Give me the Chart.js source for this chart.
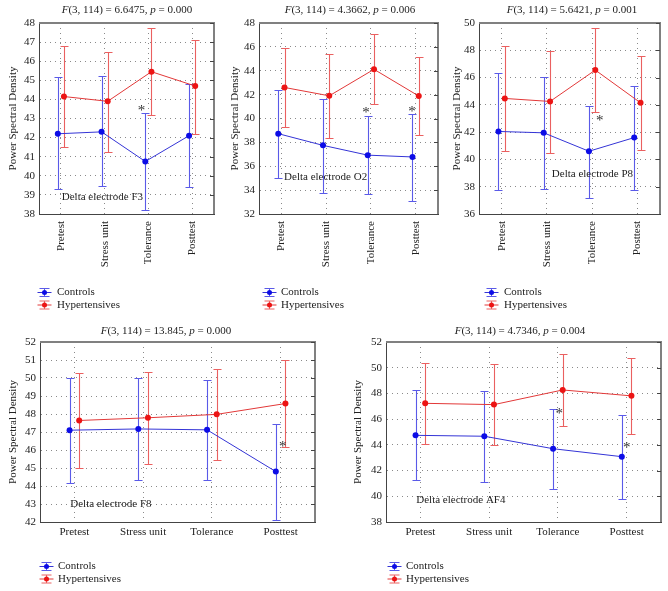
<!DOCTYPE html>
<html>
<head>
<meta charset="utf-8">
<script src="https://cdn.jsdelivr.net/npm/chart.js@4.4.1/dist/chart.umd.min.js"></script>
<style>
  body { margin: 0; background: #fff; }
  #page { position: relative; width: 668px; height: 591px; overflow: hidden; background: #fff; }
  #page canvas { position: absolute; }
</style>
</head>
<body>
<div id="page"></div>
<script>
// ---- data ----
const categories = ['Pretest', 'Stress unit', 'Tolerance', 'Posttest'];
const seriesNames = ['Controls', 'Hypertensives'];
const electrodes = ['Delta electrode F3', 'Delta electrode O2', 'Delta electrode P8', 'Delta electrode F8', 'Delta electrode AF4'];
const fValues = ['6.6475', '4.3662', '5.6421', '13.845', '4.7346'];
const pValues = ['0.000', '0.006', '0.001', '0.000', '0.004'];

// F3
const f3Controls = [42.2, 42.3, 40.75, 42.1];
const f3ControlsLow = [39.3, 39.45, 38.2, 39.4];
const f3ControlsHigh = [45.15, 45.2, 43.3, 44.8];
const f3Hyper = [44.15, 43.9, 45.45, 44.7];
const f3HyperLow = [41.5, 41.25, 43.2, 42.2];
const f3HyperHigh = [46.8, 46.5, 47.75, 47.1];
const f3Stars = [{ at: 2, dx: -0.16, y: 43.6 }];

// O2
const o2Controls = [38.73, 37.75, 36.93, 36.78];
const o2ControlsLow = [35.05, 33.8, 33.7, 33.13];
const o2ControlsHigh = [42.4, 41.66, 40.2, 40.4];
const o2Hyper = [42.6, 41.9, 44.12, 41.88];
const o2HyperLow = [39.32, 38.35, 41.18, 38.62];
const o2HyperHigh = [45.9, 45.4, 47.07, 45.13];
const o2Stars = [{ at: 2, dx: -0.11, y: 40.8 }, { at: 3, dx: -0.08, y: 40.9 }];

// P8
const p8Controls = [42.05, 41.95, 40.6, 41.6];
const p8ControlsLow = [37.75, 37.85, 37.2, 37.75];
const p8ControlsHigh = [46.35, 46.05, 43.95, 45.4];
const p8Hyper = [44.47, 44.25, 46.55, 44.15];
const p8HyperLow = [40.6, 40.5, 43.5, 40.7];
const p8HyperHigh = [48.35, 47.95, 49.6, 47.6];
const p8Stars = [{ at: 2, dx: 0.17, y: 43.1 }];

// F8
const f8Controls = [47.1, 47.17, 47.12, 44.8];
const f8ControlsLow = [44.18, 44.32, 44.32, 42.1];
const f8ControlsHigh = [49.99, 49.99, 49.88, 47.45];
const f8Hyper = [47.64, 47.79, 47.98, 48.58];
const f8HyperLow = [45.0, 45.21, 45.44, 46.17];
const f8HyperHigh = [50.27, 50.33, 50.48, 51.0];
const f8Stars = [{ at: 3, dx: 0.03, y: 46.4 }];

// AF4
const af4Controls = [44.74, 44.67, 43.7, 43.08];
const af4ControlsLow = [41.25, 41.13, 40.55, 39.78];
const af4ControlsHigh = [48.24, 48.17, 46.82, 46.35];
const af4Hyper = [47.23, 47.13, 48.27, 47.81];
const af4HyperLow = [44.05, 43.97, 45.45, 44.83];
const af4HyperHigh = [50.34, 50.32, 51.1, 50.73];
const af4Stars = [{ at: 2, dx: 0.02, y: 46.7 }, { at: 3, dx: 0.0, y: 44.1 }];

// ---- styling ----
const FONT = "'Liberation Serif', 'Times New Roman', serif";
const BLUE = { line: '#3434d6', bar: '#5a5ae8', dot: '#0c0ce6' };
const RED = { line: '#e23838', bar: '#ea6060', dot: '#ec1414' };
const DODGE = 0.07;

const panels = [
  { box: [0, 0, 222, 315], area: [39, 23, 214, 214], yMin: 38, yMax: 48, yStep: 1, rotate: true,
    ctl: [f3Controls, f3ControlsLow, f3ControlsHigh], hyp: [f3Hyper, f3HyperLow, f3HyperHigh], stars: f3Stars,
    yTitleX: 13, titleX: 127, titleY: 10, nameAt: [0.02, 38.9], legend: [38, 57, 292] },
  { box: [222, 0, 222, 315], area: [37, 23, 216, 214], yMin: 32, yMax: 48, yStep: 2, rotate: true,
    ctl: [o2Controls, o2ControlsLow, o2ControlsHigh], hyp: [o2Hyper, o2HyperLow, o2HyperHigh], stars: o2Stars,
    yTitleX: 13, titleX: 128, titleY: 10, nameAt: [0.06, 35.1], legend: [41, 59, 292] },
  { box: [444, 0, 224, 315], area: [35, 23, 216, 214], yMin: 36, yMax: 50, yStep: 2, rotate: true,
    ctl: [p8Controls, p8ControlsLow, p8ControlsHigh], hyp: [p8Hyper, p8HyperLow, p8HyperHigh], stars: p8Stars,
    yTitleX: 13, titleX: 128, titleY: 10, nameAt: [1.11, 38.9], legend: [41, 60, 292] },
  { box: [0, 315, 334, 276], area: [40, 27, 315, 207], yMin: 42, yMax: 52, yStep: 1, rotate: false,
    ctl: [f8Controls, f8ControlsLow, f8ControlsHigh], hyp: [f8Hyper, f8HyperLow, f8HyperHigh], stars: f8Stars,
    yTitleX: 13, titleX: 166, titleY: 16, nameAt: [-0.06, 43.0], legend: [40, 58, 251] },
  { box: [334, 315, 334, 276], area: [52, 27, 327, 207], yMin: 38, yMax: 52, yStep: 2, rotate: false,
    ctl: [af4Controls, af4ControlsLow, af4ControlsHigh], hyp: [af4Hyper, af4HyperLow, af4HyperHigh], stars: af4Stars,
    yTitleX: 24, titleX: 186, titleY: 16, nameAt: [-0.06, 39.7], legend: [54, 72, 251] }
];

function asPoints(series, shift) {
  const [means, low, high] = series;
  return means.map((v, i) => ({ x: i + shift, y: v, lo: low[i], hi: high[i] }));
}

const statExtras = {
  id: 'statExtras',
  beforeDatasetsDraw(chart) {
    const ctx = chart.ctx;
    const ys = chart.scales.y;
    chart.data.datasets.forEach((ds, k) => {
      const meta = chart.getDatasetMeta(k);
      ctx.save();
      ctx.strokeStyle = ds.barColor;
      ctx.lineWidth = 1.1;
      meta.data.forEach((pt, i) => {
        const raw = ds.data[i];
        const x = Math.round(pt.x) + 0.5;
        const top = Math.round(ys.getPixelForValue(raw.hi)) + 0.5;
        const bot = Math.round(ys.getPixelForValue(raw.lo)) + 0.5;
        ctx.beginPath();
        ctx.moveTo(x, top); ctx.lineTo(x, bot);
        ctx.moveTo(x - 4, top); ctx.lineTo(x + 4, top);
        ctx.moveTo(x - 4, bot); ctx.lineTo(x + 4, bot);
        ctx.stroke();
      });
      ctx.restore();
    });
  },
  afterDraw(chart, args, o) {
    const ctx = chart.ctx;
    const a = chart.chartArea;
    const xs = chart.scales.x, ys = chart.scales.y;
    ctx.save();

    // top / right frame with inward ticks
    ctx.strokeStyle = '#808080';
    ctx.lineWidth = 2;
    ctx.beginPath();
    ctx.moveTo(a.left, a.top); ctx.lineTo(a.right, a.top); ctx.lineTo(a.right, a.bottom);
    ctx.stroke();
    ctx.strokeStyle = '#444';
    ctx.lineWidth = 1;
    ys.ticks.forEach(t => {
      const py = Math.round(ys.getPixelForValue(t.value)) + 0.5;
      ctx.beginPath(); ctx.moveTo(a.right, py); ctx.lineTo(a.right - 4, py); ctx.stroke();
    });

    // title with italic F and p
    const parts = [['F', true], ['(3, 114) = ' + o.f + ', ', false], ['p', true], [' = ' + o.p, false]];
    const fontOf = it => (it ? 'italic ' : '') + '11px ' + FONT;
    let total = 0;
    parts.forEach(([s, it]) => { ctx.font = fontOf(it); total += ctx.measureText(s).width; });
    let tx = o.titleX - total / 2;
    ctx.fillStyle = '#222';
    ctx.textBaseline = 'middle';
    ctx.textAlign = 'left';
    parts.forEach(([s, it]) => { ctx.font = fontOf(it); ctx.fillText(s, tx, o.titleY); tx += ctx.measureText(s).width; });

    // electrode label
    ctx.font = '11px ' + FONT;
    ctx.fillText(o.name, xs.getPixelForValue(o.nameAt[0]), ys.getPixelForValue(o.nameAt[1]));

    // significance marks
    ctx.fillStyle = '#333';
    ctx.font = '15px ' + FONT;
    ctx.textAlign = 'center';
    ctx.textBaseline = 'alphabetic';
    o.stars.forEach(s => {
      ctx.fillText('*', xs.getPixelForValue(s.at + s.dx), ys.getPixelForValue(s.y) + 8);
    });

    // legend
    const [ix, tx0, ly] = o.legend;
    chart.data.datasets.forEach((ds, k) => {
      const cy = ly + k * 12.5 + 0.5;
      const cx = ix + 6.5;
      ctx.lineWidth = 1;
      ctx.strokeStyle = ds.barColor;
      ctx.beginPath();
      ctx.moveTo(cx - 5, cy - 4); ctx.lineTo(cx + 5, cy - 4);
      ctx.moveTo(cx - 5, cy + 4); ctx.lineTo(cx + 5, cy + 4);
      ctx.moveTo(cx, cy - 4); ctx.lineTo(cx, cy + 4);
      ctx.stroke();
      ctx.strokeStyle = ds.borderColor;
      ctx.beginPath(); ctx.moveTo(cx - 7, cy); ctx.lineTo(cx + 7, cy); ctx.stroke();
      ctx.fillStyle = ds.pointBackgroundColor;
      ctx.beginPath(); ctx.arc(cx, cy, 2.5, 0, Math.PI * 2); ctx.fill();
      ctx.fillStyle = '#222';
      ctx.textAlign = 'left';
      ctx.textBaseline = 'middle';
      ctx.font = '11px ' + FONT;
      ctx.fillText(ds.label, tx0, cy);
    });
    ctx.restore();
  }
};

const page = document.getElementById('page');

panels.forEach((p, n) => {
  const [bx, by, bw, bh] = p.box;
  const [al, at, ar, ab] = p.area;
  const canvas = document.createElement('canvas');
  canvas.width = bw;
  canvas.height = bh;
  canvas.style.left = bx + 'px';
  canvas.style.top = by + 'px';
  canvas.style.width = bw + 'px';
  canvas.style.height = bh + 'px';
  page.appendChild(canvas);

  const padLeft = p.yTitleX - 6.6;
  const xAxisH = p.rotate ? 60 : 22;

  const makeSet = (label, series, shift, c) => ({
    label: label,
    data: asPoints(series, shift),
    borderColor: c.line,
    barColor: c.bar,
    borderWidth: 1,
    pointBackgroundColor: c.dot,
    pointBorderWidth: 0,
    pointRadius: 3,
    tension: 0
  });

  new Chart(canvas, {
    type: 'line',
    data: {
      datasets: [
        makeSet(seriesNames[0], p.ctl, -DODGE, BLUE),
        makeSet(seriesNames[1], p.hyp, DODGE, RED)
      ]
    },
    options: {
      responsive: false,
      animation: false,
      devicePixelRatio: 1,
      layout: { padding: { left: padLeft, top: at, right: bw - ar, bottom: bh - ab - xAxisH } },
      plugins: {
        legend: { display: false },
        tooltip: { enabled: false },
        statExtras: {
          f: fValues[n], p: pValues[n], name: electrodes[n], nameAt: p.nameAt,
          stars: p.stars, titleX: p.titleX, titleY: p.titleY, legend: p.legend
        }
      },
      scales: {
        x: {
          type: 'linear',
          min: -0.5,
          max: 3.5,
          afterBuildTicks: s => { s.ticks = categories.map((c, i) => ({ value: i })); },
          afterFit: s => { s.height = xAxisH; },
          ticks: {
            callback: v => categories[v],
            minRotation: p.rotate ? 90 : 0,
            maxRotation: p.rotate ? 90 : 0,
            padding: p.rotate ? 7 : 4,
            color: '#222',
            font: { family: FONT, size: 11 }
          },
          grid: { color: '#8a8a8a', drawTicks: false },
          border: { color: '#444', width: 1, dash: [1, 4] }
        },
        y: {
          min: p.yMin,
          max: p.yMax,
          afterFit: s => { s.width = al - padLeft; },
          ticks: {
            stepSize: p.yStep,
            padding: 4,
            color: '#222',
            font: { family: FONT, size: 11 }
          },
          grid: { color: '#8a8a8a', drawTicks: false },
          border: { color: '#444', width: 1, dash: [1, 4] },
          title: {
            display: true,
            text: 'Power Spectral Density',
            padding: 0,
            color: '#222',
            font: { family: FONT, size: 11 }
          }
        }
      }
    },
    plugins: [statExtras]
  });
});
</script>
</body>
</html>
